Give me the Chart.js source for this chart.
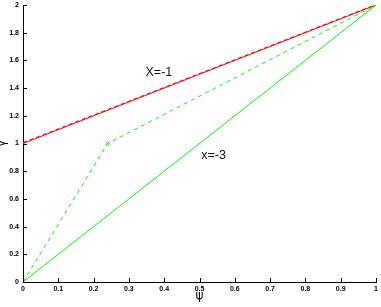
<!DOCTYPE html>
<html lang="en">
<head>
    <meta charset="UTF-8">
    <title>Gamma vs Psi</title>
    <style>
        body { margin: 0; background: #fff; }
        #chart { display: block; }
    </style>
    <script src="https://cdn.jsdelivr.net/npm/chart.js"></script>
</head>
<body>
    <canvas id="chart" width="381" height="307"></canvas>
    <script>
// data
const xTicks = [0, 0.1, 0.2, 0.3, 0.4, 0.5, 0.6, 0.7, 0.8, 0.9, 1];
const xTickLabels = ['0', '0.1', '0.2', '0.3', '0.4', '0.5', '0.6', '0.7', '0.8', '0.9', '1'];
const yTicks = [0, 0.2, 0.4, 0.6, 0.8, 1, 1.2, 1.4, 1.6, 1.8, 2];
const yTickLabels = ['0', '0.2', '0.4', '0.6', '0.8', '1', '1.2', '1.4', '1.6', '1.8', '2'];

const redSolidX = [0, 1];
const redSolidY = [1, 2];
const redDashX = [0, 1];
const redDashY = [1.006, 2.004];
const greenSolidX = [0, 1];
const greenSolidY = [0, 2];
const greenDashX = [0, 0.24, 1];
const greenDashY = [0, 1, 2];

const notes = [
    { text: 'X=-1', x: 0.385, y: 1.51 },
    { text: 'x=-3', x: 0.54, y: 0.915 }
];

function pts(xs, ys) {
    return xs.map((x, i) => ({ x: x, y: ys[i] }));
}

const red = '#ff0000';
const green = '#00ff00';
const tickFont = { family: 'Liberation Sans', size: 7, weight: 'bold' };

// inward tick marks, axis labels and text notes
const extras = {
    id: 'extras',
    afterDraw(chart) {
        const c = chart.ctx;
        const xs = chart.scales.x, ys = chart.scales.y;
        const area = chart.chartArea;
        c.save();
        c.strokeStyle = '#000';
        c.lineWidth = 1;
        c.beginPath();
        xTicks.forEach(v => {
            const px = Math.round(xs.getPixelForValue(v)) + 0.5;
            c.moveTo(px, area.bottom);
            c.lineTo(px, area.bottom - 4);
        });
        yTicks.forEach(v => {
            const py = Math.round(ys.getPixelForValue(v)) + 0.5;
            c.moveTo(area.left, py);
            c.lineTo(area.left + 4, py);
        });
        c.stroke();

        c.fillStyle = '#111';
        c.font = '12.5px "Liberation Sans"';
        c.textAlign = 'center';
        c.textBaseline = 'middle';
        notes.forEach(n => {
            c.fillText(n.text, xs.getPixelForValue(n.x), ys.getPixelForValue(n.y));
        });

        c.fillStyle = '#000';
        c.font = '12px "DejaVu Sans"';
        c.fillText('\u03c8', xs.getPixelForValue(0.5), 296);
        c.translate(2, ys.getPixelForValue(1));
        c.rotate(-Math.PI / 2);
        c.fillText('\u03b3', 0, 0);
        c.restore();
    }
};

new Chart(document.getElementById('chart'), {
    type: 'scatter',
    data: {
        datasets: [
            {
                data: pts(greenSolidX, greenSolidY),
                showLine: true,
                borderColor: green,
                borderWidth: 1,
                pointStyle: 'crossRot',
                pointRadius: 3,
                pointBorderColor: green,
                pointBorderWidth: 1
            },
            {
                data: pts(greenDashX, greenDashY),
                showLine: true,
                borderColor: green,
                borderWidth: 1,
                borderDash: [4, 4],
                pointStyle: 'crossRot',
                pointRadius: 3,
                pointBorderColor: green,
                pointBorderWidth: 1
            },
            {
                data: pts(redDashX, redDashY),
                showLine: true,
                borderColor: red,
                borderWidth: 1,
                borderDash: [4, 3],
                pointRadius: 0
            },
            {
                data: pts(redSolidX, redSolidY),
                showLine: true,
                borderColor: red,
                borderWidth: 1,
                pointStyle: 'crossRot',
                pointRadius: 3,
                pointBorderColor: red,
                pointBorderWidth: 1
            }
        ]
    },
    options: {
        responsive: false,
        animation: false,
        devicePixelRatio: 1,
        layout: { padding: { top: 2, right: 3, left: 0, bottom: 0 } },
        plugins: {
            legend: { display: false },
            tooltip: { enabled: false }
        },
        scales: {
            x: {
                type: 'linear',
                min: 0,
                max: 1,
                afterBuildTicks: s => { s.ticks = xTicks.map(v => ({ value: v })); },
                afterFit: s => { s.height = 25; s.paddingLeft = 0; s.paddingRight = 0; },
                grid: { display: true, drawOnChartArea: false, drawTicks: false, color: '#000' },
                border: { display: true, color: '#000', width: 1 },
                ticks: {
                    color: '#000', font: tickFont, padding: 3, maxRotation: 0,
                    callback: (v, i) => xTickLabels[i]
                }
            },
            y: {
                type: 'linear',
                min: 0,
                max: 2,
                afterBuildTicks: s => { s.ticks = yTicks.map(v => ({ value: v })); },
                afterFit: s => { s.width = 23; s.paddingTop = 0; s.paddingBottom = 0; },
                grid: { display: true, drawOnChartArea: false, drawTicks: false, color: '#000' },
                border: { display: true, color: '#000', width: 1 },
                ticks: {
                    color: '#000', font: tickFont, padding: 4,
                    callback: (v, i) => yTickLabels[i]
                }
            }
        }
    },
    plugins: [extras]
});
    </script>
</body>
</html>
